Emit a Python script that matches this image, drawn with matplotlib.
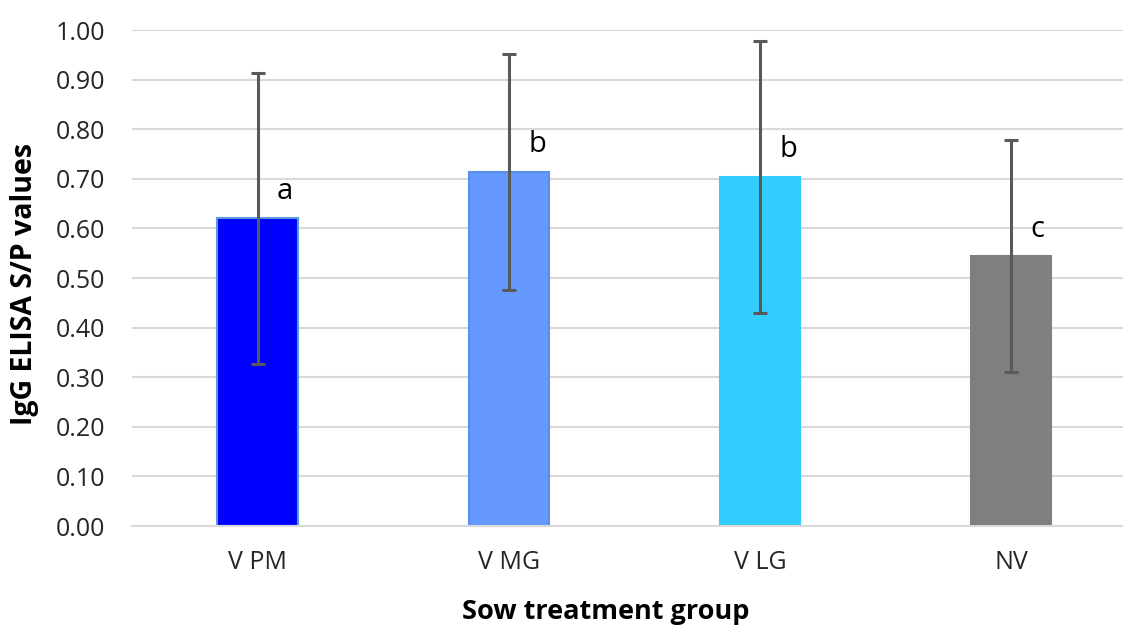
import numpy as np
import matplotlib
matplotlib.use("Agg")
import matplotlib.pyplot as plt

groups = ["V PM", "V MG", "V LG", "NV"]
means = [0.62, 0.714, 0.704, 0.544]
errors = [0.294, 0.238, 0.274, 0.234]
letters = ["a", "b", "b", "c"]
yticks = [0.0, 0.1, 0.2, 0.3, 0.4, 0.5, 0.6, 0.7, 0.8, 0.9, 1.0]

bar_colors = ["#0000FF", "#6699FF", "#33CCFF", "#7F7F7F"]
edge_colors = ["#5B9BD5", "#5B8FE8", "#33CCFF", "#7F7F7F"]

plt.rcParams["font.family"] = ["Open Sans", "DejaVu Sans"]

fig = plt.figure(figsize=(11.23, 6.26), dpi=100)
W, H = 1123, 626
ax = fig.add_axes([132 / W, (H - 526) / H, 1004.5 / W, 496 / H])

x = np.arange(len(groups))
ax.bar(x, means, width=0.32, color=bar_colors, edgecolor=edge_colors,
       linewidth=1.5, zorder=2)
ax.errorbar(x, means, yerr=errors, fmt="none", ecolor="#595959",
            elinewidth=2.2, capsize=5, capthick=2.2, zorder=3)

# significance letters
for xi, m, lt in zip(x, means, letters):
    ax.annotate(lt, (xi, m), xytext=(14, 14), textcoords="offset points",
                ha="left", va="baseline", fontsize=21, color="#000000")

ax.set_xlim(-0.5, 3.5)
ax.set_ylim(0, 1.0)
ax.set_yticks(yticks)
ax.set_yticklabels([f"{v:.2f}" for v in yticks])
ax.set_xticks(x)
ax.set_xticklabels(groups)
ax.tick_params(axis="y", length=0, pad=19, labelsize=18, labelcolor="#262626")
ax.tick_params(axis="x", length=0, pad=17, labelsize=18, labelcolor="#262626")

ax.grid(axis="y", color="#D9D9D9", linewidth=1.5, zorder=0)
ax.set_axisbelow(True)
for s in ["left", "right", "top"]:
    ax.spines[s].set_visible(False)
ax.spines["bottom"].set_color("#D9D9D9")
ax.spines["bottom"].set_linewidth(1.5)

fig.text(606 / W, (H - 619) / H, "Sow treatment group", ha="center",
         va="baseline", fontsize=19.5, fontweight="bold", color="#000000")
fig.text(25 / W, (H - 284) / H, "IgG ELISA S/P values", ha="center",
         va="center", rotation=90, fontsize=20.5, fontweight="bold",
         color="#000000")

fig.savefig("out.png", dpi=100)
